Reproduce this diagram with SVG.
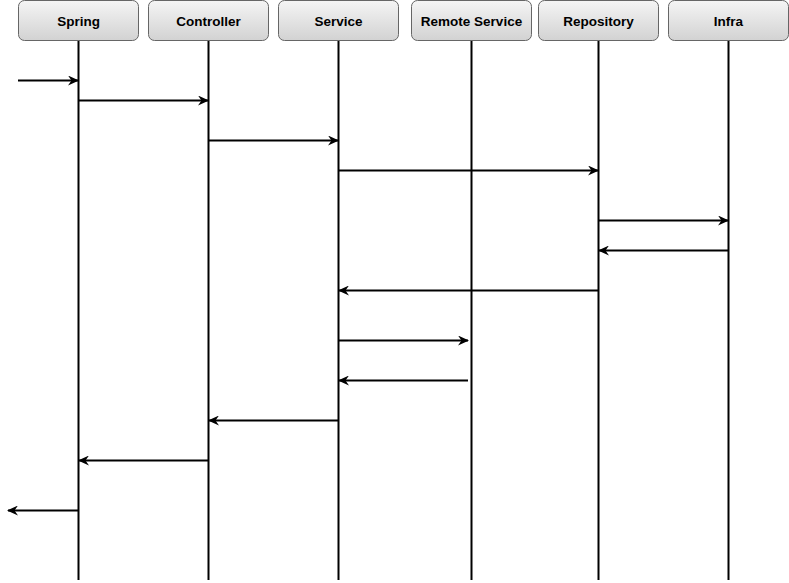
<svg xmlns="http://www.w3.org/2000/svg" width="789" height="583" viewBox="0 0 789 583">
<style>
.box{fill:url(#g);stroke:#666666;stroke-width:1}
.lbl{font-family:"Liberation Sans",Arial,sans-serif;font-size:13.5px;font-weight:bold;fill:#000;text-anchor:middle}
.life{stroke:#000;stroke-width:2;fill:none}
.msg{stroke:#000;stroke-width:2;fill:none;marker-end:url(#ah)}
</style>
<defs>
<linearGradient id="g" x1="0" y1="0" x2="0" y2="1">
<stop offset="0" stop-color="#f5f5f5"/>
<stop offset="1" stop-color="#d2d2d2"/>
</linearGradient>
<marker id="ah" viewBox="0 0 11 10" refX="10" refY="5" markerWidth="11" markerHeight="10" markerUnits="userSpaceOnUse" orient="auto">
<path d="M0,0 L11,5 L0,10 L3.5,5 z" fill="#000"/>
</marker>
</defs>
<g id="lifelines">
<line class="life" x1="78.5" y1="40" x2="78.5" y2="580"/>
<line class="life" x1="208.5" y1="40" x2="208.5" y2="580"/>
<line class="life" x1="338.5" y1="40" x2="338.5" y2="580"/>
<line class="life" x1="471.5" y1="40" x2="471.5" y2="580"/>
<line class="life" x1="598.5" y1="40" x2="598.5" y2="580"/>
<line class="life" x1="728.5" y1="40" x2="728.5" y2="580"/>
</g>
<g id="spring"><rect class="box" x="18.5" y="0.5" width="120" height="40" rx="6"/><text class="lbl" x="78.5" y="25.5">Spring</text></g>
<g id="controller"><rect class="box" x="148.5" y="0.5" width="120" height="40" rx="6"/><text class="lbl" x="208.5" y="25.5">Controller</text></g>
<g id="service"><rect class="box" x="278.5" y="0.5" width="120" height="40" rx="6"/><text class="lbl" x="338.5" y="25.5">Service</text></g>
<g id="remote"><rect class="box" x="411.5" y="0.5" width="120" height="40" rx="6"/><text class="lbl" x="471.5" y="25.5">Remote Service</text></g>
<g id="repository"><rect class="box" x="538.5" y="0.5" width="120" height="40" rx="6"/><text class="lbl" x="598.5" y="25.5">Repository</text></g>
<g id="infra"><rect class="box" x="668.5" y="0.5" width="120" height="40" rx="6"/><text class="lbl" x="728.5" y="25.5">Infra</text></g>
<g id="connectors">
<line class="msg" x1="18" y1="80.5" x2="78" y2="80.5"/>
<line class="msg" x1="78.5" y1="100.5" x2="208" y2="100.5"/>
<line class="msg" x1="208.5" y1="140.5" x2="338" y2="140.5"/>
<line class="msg" x1="338.5" y1="170.5" x2="598" y2="170.5"/>
<line class="msg" x1="598.5" y1="220.5" x2="728" y2="220.5"/>
<line class="msg" x1="728.5" y1="250.5" x2="599" y2="250.5"/>
<line class="msg" x1="598.5" y1="290.5" x2="339" y2="290.5"/>
<line class="msg" x1="338.5" y1="340.5" x2="468" y2="340.5"/>
<line class="msg" x1="468" y1="380.5" x2="339" y2="380.5"/>
<line class="msg" x1="338.5" y1="420.5" x2="209" y2="420.5"/>
<line class="msg" x1="208.5" y1="460.5" x2="79" y2="460.5"/>
<line class="msg" x1="78.5" y1="510.5" x2="8" y2="510.5"/>
</g>
</svg>
